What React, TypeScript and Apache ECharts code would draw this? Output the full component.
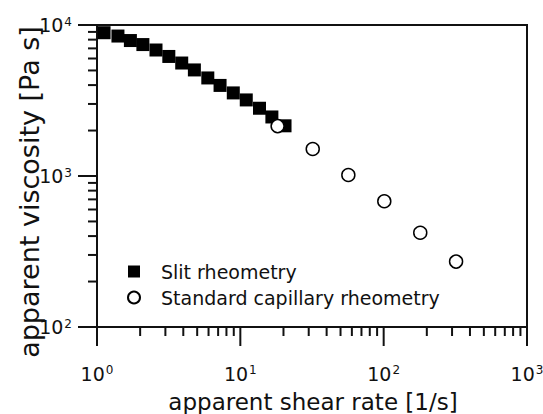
import React, { useEffect, useRef } from "react";
import * as echarts from "echarts";

// Slit rheometry (filled squares)
const slitShearRate = [1.12, 1.40, 1.71, 2.09, 2.58, 3.17, 3.90, 4.78, 5.93, 7.22, 8.93, 11.0, 13.6, 16.6, 20.5];
const slitViscosity = [8890, 8450, 7890, 7420, 6830, 6190, 5600, 5040, 4460, 3980, 3550, 3190, 2810, 2460, 2150];

// Standard capillary rheometry (open circles)
const capShearRate = [18.2, 32.0, 56.7, 101, 180, 320];
const capViscosity = [2140, 1510, 1016, 680, 421, 271];

// Axis structure
const xMajorTicks = [1, 10, 100, 1000];
const yMajorTicks = [100, 1000, 10000];
const xMinorTicks = [2, 3, 4, 5, 6, 7, 8, 9, 20, 30, 40, 50, 60, 70, 80, 90, 200, 300, 400, 500, 600, 700, 800, 900];
const yMinorTicks = [200, 300, 400, 500, 600, 700, 800, 900, 2000, 3000, 4000, 5000, 6000, 7000, 8000, 9000];

const seriesNames = ["Slit rheometry", "Standard capillary rheometry"];
const xTitle = "apparent shear rate [1/s]";
const yTitle = "apparent viscosity [Pa s]";

const FONT = '"DejaVu Sans", "Liberation Sans", Arial, sans-serif';
const INK = "#111";
const MAJOR_LEN = 19;
const MINOR_LEN = 9;

const powLabel = (v: number) => `{b|10}{s|${Math.round(Math.log10(v))}}`;
const richLabel = {
  b: { fontSize: 19, fontFamily: FONT, color: INK },
  s: { fontSize: 12, fontFamily: FONT, color: INK, verticalAlign: "top" as const, padding: [0, 0, 0, 1] },
};

export default function App() {
  const ref = useRef<HTMLDivElement>(null);
  useEffect(() => {
    if (!ref.current) return;
    const chart = echarts.init(ref.current, undefined, { renderer: "svg" });

    const xMin = xMajorTicks[0];
    const yMin = yMajorTicks[0];

    const tickSeries = (axis: "x" | "y", data: number[][]) => ({
      type: "custom" as const,
      silent: true,
      z: 5,
      encode: { x: 0, y: 1 },
      data,
      renderItem: (params: any, api: any) => {
        const p = api.coord([api.value(0), api.value(1)]);
        const len = api.value(2);
        const shape =
          axis === "x"
            ? { x: p[0] - 1, y: p[1], width: 2, height: len }
            : { x: p[0] - len, y: p[1] - 1, width: len, height: 2 };
        return { type: "rect", shape, style: { fill: INK } };
      },
    });

    const baseGraphic: any[] = [
      {
        type: "text",
        x: 29,
        y: 192,
        rotation: Math.PI / 2,
        style: {
          text: yTitle,
          font: `27px ${FONT}`,
          fill: INK,
          align: "center",
          verticalAlign: "middle",
        },
      },
      {
        type: "text",
        x: 313,
        y: 402,
        style: {
          text: xTitle,
          font: `23px ${FONT}`,
          fill: INK,
          align: "center",
          verticalAlign: "middle",
        },
      },
    ];

    chart.setOption({
      animation: false,
      backgroundColor: "#fff",
      grid: {
        left: 97,
        right: 16,
        top: 25,
        bottom: 87,
        containLabel: false,
        outerBoundsMode: "none",
        show: true,
        borderColor: INK,
        borderWidth: 2,
        backgroundColor: "transparent",
      },
      xAxis: {
        type: "log",
        logBase: 10,
        min: xMajorTicks[0],
        max: xMajorTicks[xMajorTicks.length - 1],
        axisLine: { show: true, onZero: false, lineStyle: { color: INK, width: 2 } },
        axisTick: { show: false },
        minorTick: { show: false },
        splitLine: { show: false },
        axisLabel: { margin: 37, formatter: powLabel, rich: richLabel },
      },
      yAxis: {
        type: "log",
        logBase: 10,
        min: yMajorTicks[0],
        max: yMajorTicks[yMajorTicks.length - 1],
        axisLine: { show: true, onZero: false, lineStyle: { color: INK, width: 2 } },
        axisTick: { show: false },
        minorTick: { show: false },
        splitLine: { show: false },
        axisLabel: { margin: 25, formatter: powLabel, rich: richLabel },
      },
      legend: {
        orient: "vertical",
        left: 127,
        top: 262,
        padding: 0,
        itemWidth: 12,
        itemHeight: 12,
        itemGap: 7,
        textStyle: { fontSize: 19, fontFamily: FONT, color: INK, padding: [0, 0, 0, 16] },
        data: [
          { name: seriesNames[0], icon: "rect" },
          { name: seriesNames[1], icon: "circle" },
        ],
      },
      graphic: baseGraphic,
      series: [
        tickSeries("x", xMinorTicks.map((v) => [v, yMin, MINOR_LEN])),
        tickSeries("y", yMinorTicks.map((v) => [xMin, v, MINOR_LEN])),
        {
          name: seriesNames[0],
          type: "scatter",
          symbol: "rect",
          symbolSize: 13,
          z: 3,
          itemStyle: { color: "#000", borderWidth: 0, opacity: 1 },
          data: slitShearRate.map((x, i) => [x, slitViscosity[i]]),
        },
        {
          name: seriesNames[1],
          type: "scatter",
          symbol: "circle",
          symbolSize: 13,
          z: 4,
          itemStyle: { color: "#fff", borderColor: "#000", borderWidth: 1.5, opacity: 1 },
          data: capShearRate.map((x, i) => [x, capViscosity[i]]),
        },
      ],
    });

    // Major ticks, placed through the axes' own scales
    const majorTicks: any[] = [];
    xMajorTicks.forEach((v) => {
      const p = chart.convertToPixel({ gridIndex: 0 }, [v, yMin]) as number[];
      majorTicks.push({
        type: "rect",
        z: 10,
        shape: { x: p[0] - 1, y: p[1], width: 2, height: MAJOR_LEN },
        style: { fill: INK },
      });
    });
    yMajorTicks.forEach((v) => {
      const p = chart.convertToPixel({ gridIndex: 0 }, [xMin, v]) as number[];
      majorTicks.push({
        type: "rect",
        z: 10,
        shape: { x: p[0] - MAJOR_LEN, y: p[1] - 1, width: MAJOR_LEN, height: 2 },
        style: { fill: INK },
      });
    });
    chart.setOption({ graphic: [...baseGraphic, ...majorTicks] });

    return () => chart.dispose();
  }, []);
  return (
    <div
      ref={ref}
      style={{ position: "absolute", left: 0, top: 0, width: 543, height: 414 }}
    />
  );
}
